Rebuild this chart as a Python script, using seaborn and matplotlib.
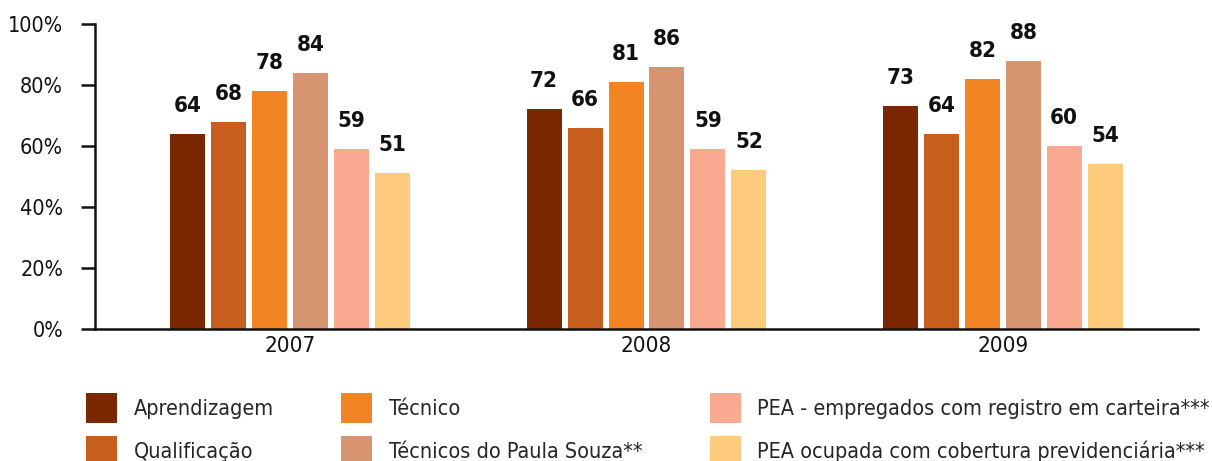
import matplotlib
matplotlib.use("Agg")
import matplotlib.pyplot as plt
import seaborn as sns
import pandas as pd
from matplotlib.patches import Patch

years = ["2007", "2008", "2009"]
series = ["Aprendizagem", "Qualificação", "Técnico", "Técnicos do Paula Souza**",
          "PEA - empregados com registro em carteira***",
          "PEA ocupada com cobertura previdenciária***"]
aprendizagem = [64, 72, 73]
qualificacao = [68, 66, 64]
tecnico = [78, 81, 82]
paula_souza = [84, 86, 88]
pea_empregados = [59, 59, 60]
pea_ocupada = [51, 52, 54]
colors = ["#7B2800", "#C85E1E", "#F28423", "#D79470", "#F9A98F", "#FECB7D"]

values = [aprendizagem, qualificacao, tecnico, paula_souza, pea_empregados, pea_ocupada]
rows = []
for s, vals in zip(series, values):
    for y, v in zip(years, vals):
        rows.append({"year": y, "series": s, "value": v})
df = pd.DataFrame(rows)

sns.set_style("ticks")
plt.rcParams['font.family'] = ['DejaVu Sans']
plt.rcParams['font.stretch'] = 'condensed'

fig = plt.figure(figsize=(12.12, 4.61), dpi=100)
ax = fig.add_axes([95/1212, 1 - 329/461, (1198-95)/1212, (329-24)/461])

sns.barplot(data=df, x="year", y="value", hue="series", hue_order=series,
            palette=colors, width=0.69, gap=0.146, ax=ax, legend=False,
            edgecolor="none", linewidth=0, saturation=1)

for cont in ax.containers:
    ax.bar_label(cont, fmt="%d", padding=13, fontsize=16, fontweight="bold", color="#111111")

ax.set_ylim(0, 100)
ax.set_xlim(-0.548, 2.548)
ax.set_yticks([0, 20, 40, 60, 80, 100])
ax.set_yticklabels([f"{t}%" for t in [0, 20, 40, 60, 80, 100]])
ax.set_xlabel("")
ax.set_ylabel("")
sns.despine(ax=ax)
for sp in ["left", "bottom"]:
    ax.spines[sp].set_linewidth(1.8)
    ax.spines[sp].set_color("#111111")
ax.tick_params(axis="y", length=10, width=1.8, labelsize=15.5, pad=13, colors="#111111")
ax.tick_params(axis="x", length=0, labelsize=16, pad=5, colors="#111111")

handles = [Patch(facecolor=c, edgecolor="none") for c in colors]
fig.legend(handles, series, loc="upper left", bbox_to_anchor=(67/1212, 1 - 374/461),
           ncol=3, frameon=False, fontsize=15.5, handlelength=1.44, handleheight=1.77,
           handletextpad=0.75, columnspacing=3.15, labelspacing=0.6)

fig.savefig("out.png", dpi=100)
